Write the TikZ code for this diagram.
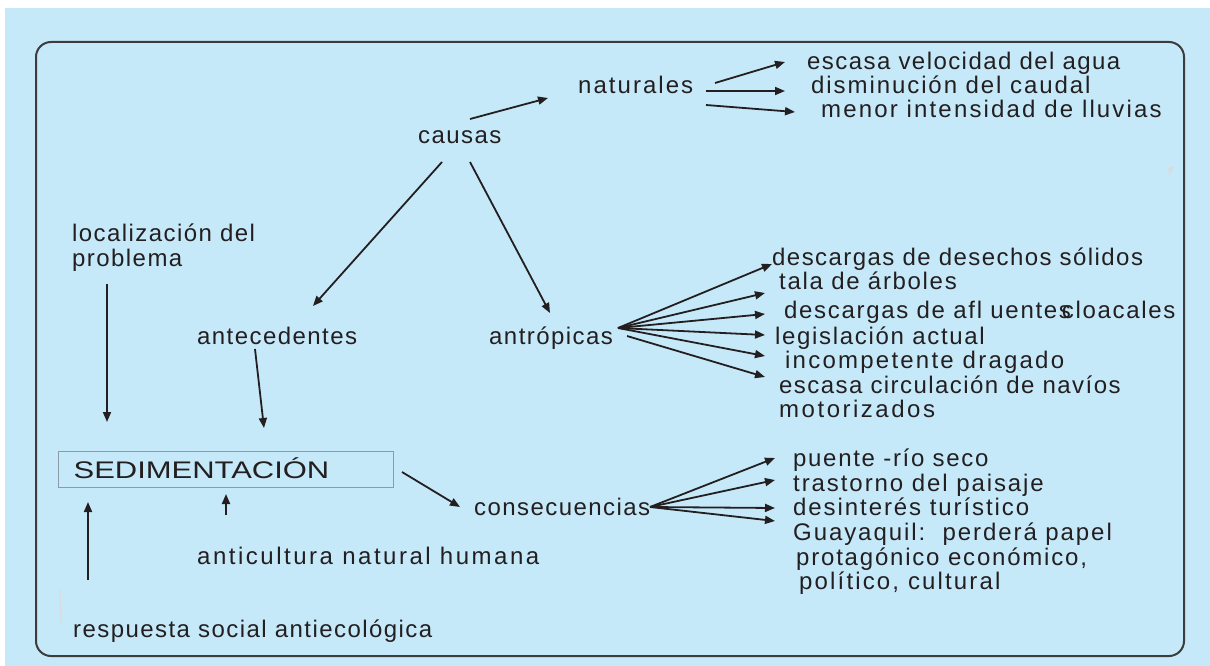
\documentclass[tikz,border=0pt]{standalone}
\usepackage{fontspec}
\setmainfont{Liberation Sans}[LetterSpace=6]
\newfontfamily\capsfont{Liberation Sans}[FakeStretch=1.29]
\usetikzlibrary{arrows.meta}
\definecolor{panel}{HTML}{C6E9F9}
\definecolor{ink}{HTML}{231F20}
\definecolor{frame}{HTML}{3C3C3C}
\definecolor{boxline}{HTML}{8C9BA5}
\definecolor{smudge}{HTML}{D8DCDE}

\begin{document}
\begin{tikzpicture}[x=1pt,y=-1pt,
  lbl/.style={anchor=base west, inner sep=0pt, text=ink, font=\fontsize{24}{25}\selectfont},
  spaced/.style={font=\fontsize{24}{25}\selectfont\addfontfeature{LetterSpace=#1}},
  arr/.style={draw=ink, line width=1.8pt, -{Triangle[length=10pt,width=8pt]}},
  mainbox/.style={draw=boxline, line width=1.2pt, anchor=north west, inner xsep=15pt,
    inner ysep=9.5pt, text width=305pt, align=left, text height=17pt, text depth=0pt,
    text=ink, font=\capsfont\fontsize{24}{25}\selectfont},
]
% page and panel
\useasboundingbox (0,0) rectangle (1210,666);
\fill[white] (0,0) rectangle (1210,666);
\fill[panel] (5,8) rectangle (1210,666);
\draw[frame, line width=2pt, rounded corners=15pt] (36,42) rectangle (1184,656);
\draw[smudge, line width=1.2pt] (60,590) -- (61,622);
\fill[smudge] (1168,168) -- (1174,166) -- (1170,176) -- cycle;

% labels
\node[lbl] (causas) at (418,143) {causas};
\node[lbl, spaced=8.5] (naturales) at (578,94) {naturales};
\node[lbl] (nat1) at (807,70) {escasa velocidad del agua};
\node[lbl, spaced=8] (nat2) at (811,94) {disminución del caudal};
\node[lbl, spaced=9] (nat3) at (821,118) {menor intensidad de lluvias};

\node[lbl] (antecedentes) at (197,344) {antecedentes};
\node[lbl] (antropicas) at (489,344) {antrópicas};
\node[lbl] (ant1) at (772,265) {descargas de desechos sólidos};
\node[lbl, spaced=7] (ant2) at (779,289) {tala de árboles};
\node[lbl, spaced=7] (ant3) at (784,318) {descargas de afl uentes\kern-9pt cloacales};
\node[lbl, spaced=7] (ant4) at (775,344) {legislación actual};
\node[lbl, spaced=9.3] (ant5) at (785,368) {incompetente dragado};
\node[lbl] (ant6) at (779,393) {escasa circulación de navíos};
\node[lbl, spaced=10.5] (ant6b) at (779,417) {motorizados};

\node[lbl] (loc) at (72,241) {localización del};
\node[lbl] (locb) at (72,266) {problema};

\node[mainbox] (sed) at (58,451) {SEDIMENTACIÓN};

\node[lbl, spaced=10.5] (anticultura) at (197,564) {anticultura natural humana};
\node[lbl] (respuesta) at (73,637) {respuesta social antiecológica};

\node[lbl] (consecuencias) at (474,515) {consecuencias};
\node[lbl, spaced=7] (con1) at (793,466) {puente -río seco};
\node[lbl, spaced=8] (con2) at (793,491) {trastorno del paisaje};
\node[lbl, spaced=8] (con3) at (793,515) {desinterés turístico};
\node[lbl, spaced=8] (con4) at (793,540) {Guayaquil:\hspace{6pt} perderá papel};
\node[lbl, spaced=7.5] (con4b) at (796,565) {protagónico económico,};
\node[lbl, spaced=9] (con4c) at (799,589) {político, cultural};

% connector ends
\coordinate (causas-r) at (470,119);
\coordinate (causas-l) at (442,162);
\coordinate (causas-d) at (470,162);
\coordinate (naturales-in) at (548,98);
\coordinate (antecedentes-in) at (313,306);
\coordinate (antropicas-in) at (550,313);
\coordinate (naturales-a) at (715,83);
\coordinate (naturales-b) at (706,91);
\coordinate (naturales-c) at (706,105);
\coordinate (nat1-in) at (785,62);
\coordinate (nat2-in) at (785,91);
\coordinate (nat3-in) at (795,112);
\coordinate (antropicas-out) at (618,328);
\coordinate (antropicas-low) at (627,336);
\coordinate (ant1-in) at (772,264);
\coordinate (ant2-in) at (765,293);
\coordinate (ant3-in) at (765,314);
\coordinate (ant4-in) at (765,335);
\coordinate (ant5-in) at (765,356);
\coordinate (ant6-in) at (765,377);
\coordinate (loc-out) at (107,284);
\coordinate (sed-top1) at (107,422);
\coordinate (antecedentes-out) at (255,349);
\coordinate (sed-top2) at (264,428);
\coordinate (anticultura-out) at (226,515);
\coordinate (sed-bot1) at (226,494);
\coordinate (respuesta-out) at (88,580);
\coordinate (sed-bot2) at (88,502);
\coordinate (sed-out) at (402,472);
\coordinate (consecuencias-in) at (460,507);
\coordinate (consecuencias-out) at (650,507);
\coordinate (con1-in) at (775,458);
\coordinate (con2-in) at (775,480);
\coordinate (con3-in) at (775,508);
\coordinate (con4-in) at (775,521);

% connectors
\draw[arr] (causas-r) -- (naturales-in);
\draw[arr] (causas-l) -- (antecedentes-in);
\draw[arr] (causas-d) -- (antropicas-in);
\draw[arr] (naturales-a) -- (nat1-in);
\draw[arr] (naturales-b) -- (nat2-in);
\draw[arr] (naturales-c) -- (nat3-in);
\foreach \t in {ant1,ant2,ant3,ant4,ant5}
  \draw[arr] (antropicas-out) -- (\t-in);
\draw[arr] (antropicas-low) -- (ant6-in);
\draw[arr] (loc-out) -- (sed-top1);
\draw[arr] (antecedentes-out) -- (sed-top2);
\draw[arr] (anticultura-out) -- (sed-bot1);
\draw[arr] (respuesta-out) -- (sed-bot2);
\draw[arr] (sed-out) -- (consecuencias-in);
\foreach \t in {con1,con2,con3,con4}
  \draw[arr] (consecuencias-out) -- (\t-in);
\end{tikzpicture}
\end{document}
